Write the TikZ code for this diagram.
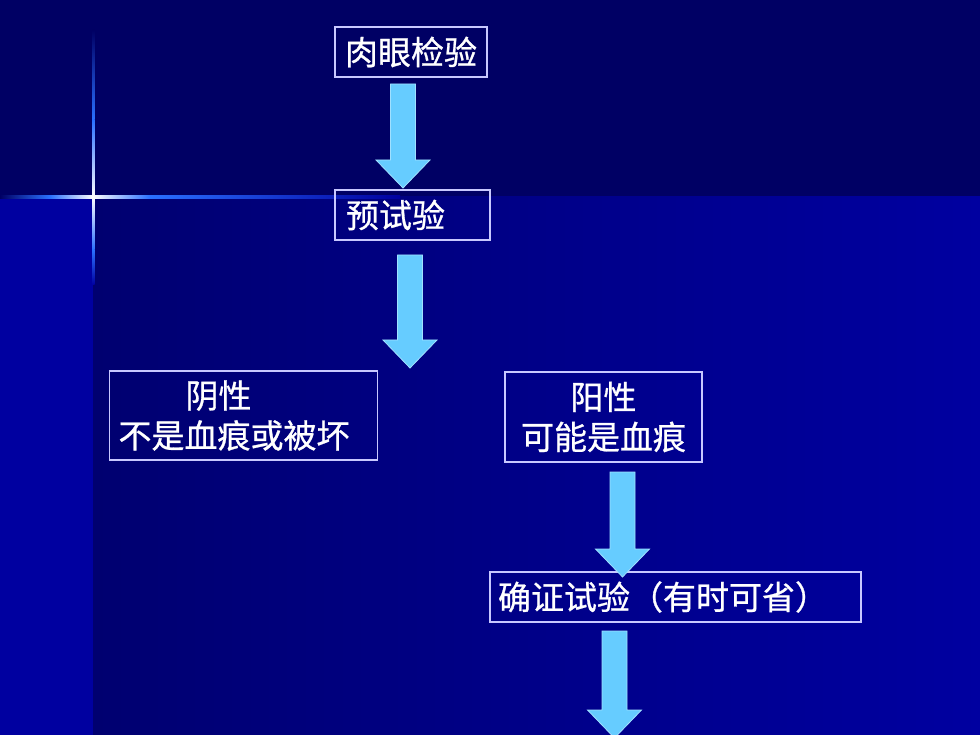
\documentclass[tikz,border=0pt]{standalone}
\usepackage{fontspec}
\newfontfamily\cjk[FakeBold=0.8]{Noto Sans CJK SC}
\definecolor{topbg}{HTML}{000064}
\definecolor{leftbg}{HTML}{0000A0}
\definecolor{midbg}{HTML}{000070}
\definecolor{rightbg}{HTML}{0000A0}
\definecolor{boxedge}{HTML}{C8C8FF}
\definecolor{arrowfill}{HTML}{66CCFF}
\definecolor{arrowedge}{HTML}{A0E0FF}
\definecolor{flare}{HTML}{2A70FF}
\newcommand\bArrow[3]{%
  \filldraw[arrowshape] ({#1-12.5},#2) -- ({#1+12.5},#2) -- ({#1+12.5},{#3-28}) -- ({#1+27},{#3-28}) -- (#1,#3) -- ({#1-27},{#3-28}) -- ({#1-12.5},{#3-28}) -- cycle;}
\tikzset{
  box/.style={draw=boxedge, line width=1.2pt, text=white, font=\cjk\fontsize{33}{40}\selectfont, inner sep=0pt, minimum height=50pt},
  arrowshape/.style={fill=arrowfill, draw=arrowedge, line width=0.8pt},
}
\begin{document}
\begin{tikzpicture}[x=1pt,y=-1pt]
\useasboundingbox (0,0) rectangle (980,735);
% background
\fill[topbg] (0,0) rectangle (980,197);
\fill[leftbg] (0,197) rectangle (93,735);
\shade[left color=midbg, right color=rightbg] (93,197) rectangle (980,735);
% flare
\shade[left color=topbg, right color=flare] (0,196) rectangle (50,198.5);
\shade[left color=flare, right color=white] (50,196) rectangle (93,198.5);
\shade[left color=white, right color=flare] (93,196) rectangle (150,198.5);
\shade[left color=flare, right color=leftbg] (150,196) rectangle (400,198.5);
\shade[top color=topbg, bottom color=flare] (92,30) rectangle (94.5,120);
\shade[top color=flare, bottom color=white] (92,120) rectangle (94.5,197);
\shade[top color=white, bottom color=flare] (92,197) rectangle (94.5,250);
\shade[top color=flare, bottom color=leftbg] (92,250) rectangle (94.5,285);
% boxes
\node[box, minimum width=152pt] (eye) at (411,52) {肉眼检验};
\node[box, minimum width=155pt, text width=133pt, inner xsep=11pt, align=left] (pre) at (412.5,215) {预试验};
\node[box, minimum width=267pt, minimum height=89pt, text width=250pt, inner xsep=9pt, align=left] (neg) at (243.5,415.5) {\hspace*{67pt}阴性\\不是血痕或被坏};
\node[box, minimum width=197pt, minimum height=90pt, align=center] (pos) at (603.5,417) {阳性\\可能是血痕};
\node[box, minimum width=371pt, text width=355pt, inner xsep=8pt, align=left] (conf) at (675.5,597) {确证试验（有时可省）};
% block arrows
\bArrow{403}{84}{188}
\bArrow{410}{255}{368}
\bArrow{622.5}{472}{577}
\bArrow{614.5}{631}{738}
\end{tikzpicture}
\end{document}
